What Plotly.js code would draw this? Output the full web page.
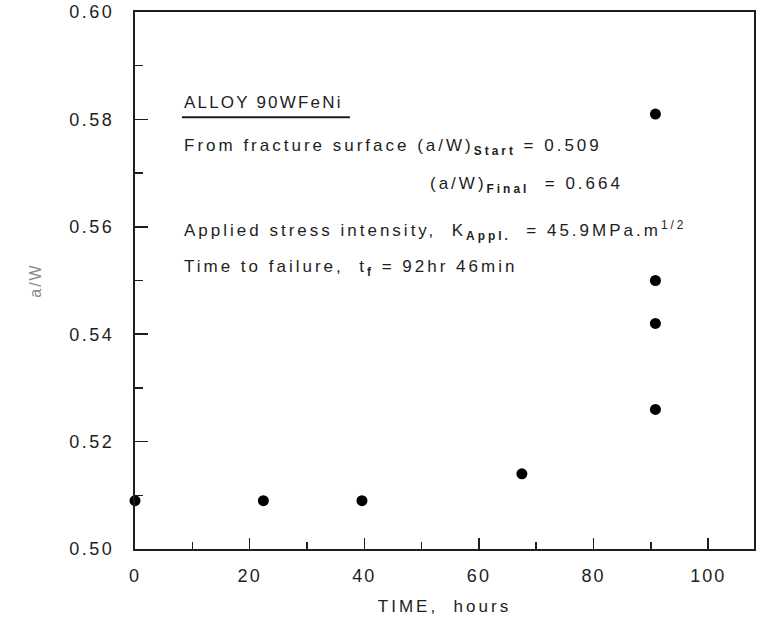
<!DOCTYPE html>
<html>
<head>
<meta charset="utf-8">
<script src="https://cdn.plot.ly/plotly-3.0.1.min.js"></script>
<style>html,body{margin:0;padding:0;background:#fff;}#chart{width:767px;height:625px;}</style>
</head>
<body>
<div id="chart"></div>
<script>
// Data
const timeHours = [0, 22.4, 39.6, 67.5, 90.8, 90.8, 90.8, 90.8];
const crackRatio = [0.509, 0.509, 0.509, 0.514, 0.581, 0.550, 0.542, 0.526];
const xTickVals = [0, 20, 40, 60, 80, 100];
const xTickText = ['0', '20', '40', '60', '80', '100'];
const yTickVals = [0.50, 0.52, 0.54, 0.56, 0.58, 0.60];
const yTickText = ['0.50', '0.52', '0.54', '0.56', '0.58', '0.60'];

const ink = '#1e1e1e';
const font = 'Liberation Sans, Arial, sans-serif';
const sp = (s, ls) => '<span style="letter-spacing:' + (ls === undefined ? 3 : ls) + 'px">' + s + '</span>';

const trace = {
  x: timeHours, y: crackRatio, type: 'scatter', mode: 'markers', cliponaxis: false,
  marker: {color: '#000', size: 11}, hoverinfo: 'x+y', showlegend: false
};

const annFont = {size: 17, color: ink};
const layout = {
  width: 767, height: 625,
  margin: {l: 135, r: 13, t: 12, b: 76},
  paper_bgcolor: '#fff', plot_bgcolor: '#fff',
  font: {family: font, color: ink, size: 17},
  xaxis: {
    range: [0, 108], tickvals: xTickVals, ticktext: xTickText.map(t => sp(t, 2)),
    ticks: 'inside', ticklen: 11, tickwidth: 1.5,
    tickcolor: ink, showline: true, mirror: true, linecolor: ink, linewidth: 2,
    showgrid: false, zeroline: false, ticklabelstandoff: 9,
    tickfont: {size: 18, color: ink},
    minor: {dtick: 10, ticks: 'inside', ticklen: 7, tickwidth: 1.5, tickcolor: ink, showgrid: false},
    title: {text: sp('TIME,  hours'), font: {size: 17, color: ink}, standoff: 16}
  },
  yaxis: {
    range: [0.50, 0.60], tickvals: yTickVals, ticktext: yTickText.map(t => sp(t, 2.5)),
    ticks: 'inside', ticklen: 13, tickwidth: 1.5,
    tickcolor: ink, showline: true, mirror: true, linecolor: ink, linewidth: 2,
    showgrid: false, zeroline: false, ticklabelstandoff: 15,
    tickfont: {size: 18, color: ink},
    minor: {dtick: 0.01, ticks: 'inside', ticklen: 8, tickwidth: 1.5, tickcolor: ink, showgrid: false},
    title: {text: sp('a/W', 2), font: {size: 16, color: '#8a8a8a'}, standoff: 24}
  },
  annotations: [
    {xref: 'x', yref: 'y', x: 8.2, y: 0.5831, xanchor: 'left', yanchor: 'middle', showarrow: false,
     text: sp('ALLOY 90WFeNi', 2.2), font: annFont},
    {xref: 'x', yref: 'y', x: 8.2, y: 0.5749, xanchor: 'left', yanchor: 'middle', showarrow: false,
     text: sp('From fracture surface (a/W)<sub><b>Start</b></sub> = 0.509'), font: annFont},
    {xref: 'x', yref: 'y', x: 51.2, y: 0.5678, xanchor: 'left', yanchor: 'middle', showarrow: false,
     text: sp('(a/W)<sub><b>Final</b></sub>  = 0.664'), font: annFont},
    {xref: 'x', yref: 'y', x: 8.2, y: 0.5594, xanchor: 'left', yanchor: 'middle', showarrow: false,
     text: sp('Applied stress intensity,  K<sub><b>Appl.</b></sub>  = 45.9MPa.m<sup>1/2</sup>'), font: annFont},
    {xref: 'x', yref: 'y', x: 8.2, y: 0.5523, xanchor: 'left', yanchor: 'middle', showarrow: false,
     text: sp('Time to failure,  t<sub><b>f</b></sub> = 92hr 46min'), font: annFont}
  ],
  shapes: [
    {type: 'line', xref: 'x', yref: 'y', x0: 8.2, x1: 37.5, y0: 0.5804, y1: 0.5804,
     line: {color: ink, width: 2}}
  ]
};

Plotly.newPlot('chart', [trace], layout, {displayModeBar: false, staticPlot: true});
</script>
</body>
</html>
